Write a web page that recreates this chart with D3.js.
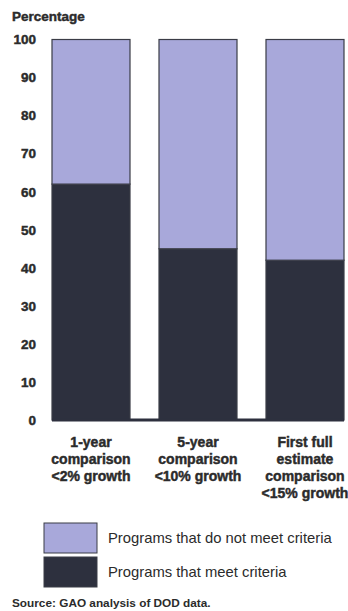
<!DOCTYPE html>
<html>
<head>
<meta charset="utf-8">
<script src="https://cdn.jsdelivr.net/npm/d3@7"></script>
<style>
  html, body { margin: 0; padding: 0; background: #fff; }
  svg { display: block; font-family: "Liberation Sans", Arial, sans-serif; }
  .heavy { paint-order: stroke; stroke: #2b2b2b; stroke-width: 0.45px; }
</style>
</head>
<body>
<svg id="chart" width="348" height="611"></svg>
<script>
// Category labels (one entry per line of the label)
const categories = [
  ["1-year", "comparison", "<2% growth"],
  ["5-year", "comparison", "<10% growth"],
  ["First full", "estimate", "comparison", "<15% growth"]
];
const categoryKeys = ["c1", "c2", "c3"];

// Share of programs, in percent
const meetCriteria = [62, 45, 42];
const notMeetCriteria = [38, 55, 58];

const yTicks = [0, 10, 20, 30, 40, 50, 60, 70, 80, 90, 100];

const seriesNames = ["Programs that do not meet criteria", "Programs that meet criteria"];
const seriesColors = ["#a8a8da", "#2d303e"];

const svg = d3.select("#chart");
const textColor = "#2b2b2b";

const x = d3.scaleBand()
  .domain(categoryKeys)
  .range([52, 344])
  .paddingInner(0.271)
  .paddingOuter(0);

const y = d3.scaleLinear()
  .domain([0, 100])
  .range([420, 39.5]);

// Axis title
svg.append("text")
  .attr("class", "heavy")
  .attr("x", 12)
  .attr("y", 21)
  .attr("font-size", 13.5)
  .attr("font-weight", "bold")
  .attr("fill", textColor)
  .text("Percentage");

// Y axis (labels only)
const yAxis = svg.append("g")
  .attr("transform", `translate(${x.range()[0]},0)`)
  .call(d3.axisLeft(y).tickValues(yTicks).tickSize(0).tickPadding(16).tickFormat(d3.format("d")));
yAxis.select(".domain").remove();
yAxis.selectAll("text")
  .attr("class", "heavy")
  .attr("font-size", 13.5)
  .attr("font-weight", "bold")
  .attr("font-family", "'Liberation Sans', Arial, sans-serif")
  .attr("fill", textColor);

// Stacked bars
const rows = categoryKeys.map((k, i) => ({ key: k, meet: meetCriteria[i], notMeet: notMeetCriteria[i] }));
const stack = d3.stack().keys(["meet", "notMeet"]);
const layers = stack(rows);
const layerColor = { meet: seriesColors[1], notMeet: seriesColors[0] };

svg.append("g")
  .selectAll("g")
  .data(layers)
  .join("g")
  .attr("fill", d => layerColor[d.key])
  .selectAll("rect")
  .data(d => d)
  .join("rect")
  .attr("x", d => x(d.data.key))
  .attr("y", d => y(d[1]))
  .attr("width", x.bandwidth())
  .attr("height", d => y(d[0]) - y(d[1]))
  .attr("stroke", "#3a3c46")
  .attr("stroke-width", 1.2);

// Baseline
svg.append("line")
  .attr("x1", x.range()[0])
  .attr("x2", x.range()[1])
  .attr("y1", y(0))
  .attr("y2", y(0))
  .attr("stroke", "#2d303e")
  .attr("stroke-width", 3);

// Category labels
const catLabels = svg.append("g")
  .selectAll("text")
  .data(categories)
  .join("text")
  .attr("class", "heavy")
  .attr("x", (d, i) => x(categoryKeys[i]) + x.bandwidth() / 2)
  .attr("y", 447)
  .attr("text-anchor", "middle")
  .attr("font-size", 14)
  .attr("font-weight", "bold")
  .attr("fill", textColor);
catLabels.selectAll("tspan")
  .data(d => d)
  .join("tspan")
  .attr("x", function () { return d3.select(this.parentNode).attr("x"); })
  .attr("dy", (d, i) => i === 0 ? 0 : 17)
  .text(d => d);

// Legend
const legend = svg.append("g")
  .selectAll("g")
  .data(seriesNames)
  .join("g")
  .attr("transform", (d, i) => `translate(44,${523 + i * 34})`);
legend.append("rect")
  .attr("width", 53)
  .attr("height", 30)
  .attr("fill", (d, i) => seriesColors[i])
  .attr("stroke", "#3a3c46")
  .attr("stroke-width", 1);
legend.append("text")
  .attr("x", 64)
  .attr("y", 20)
  .attr("font-size", 14.8)
  .attr("fill", textColor)
  .text(d => d);

// Source note
svg.append("text")
  .attr("x", 12)
  .attr("y", 607)
  .attr("font-size", 11.8)
  .attr("font-weight", "bold")
  .attr("fill", textColor)
  .text("Source: GAO analysis of DOD data.");
</script>
</body>
</html>
